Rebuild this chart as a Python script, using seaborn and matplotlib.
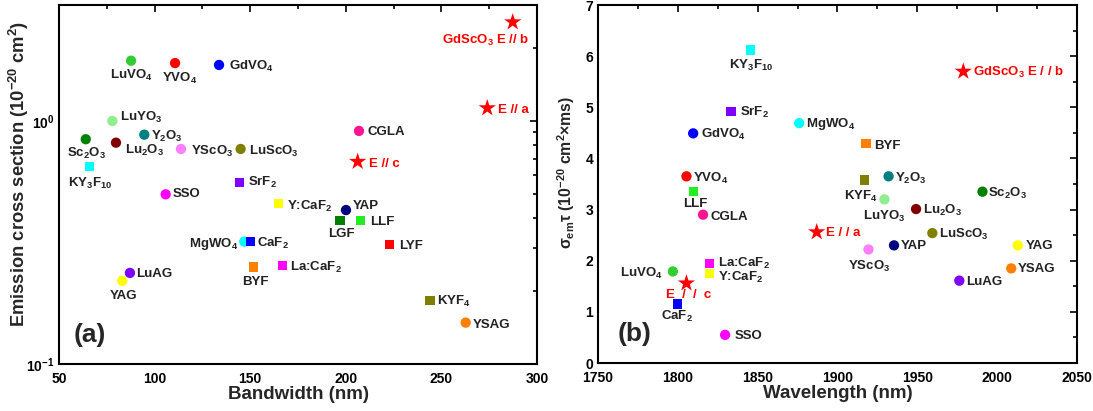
import matplotlib
matplotlib.use("Agg")
import matplotlib.pyplot as plt
import seaborn as sns
import pandas as pd
from matplotlib.ticker import MultipleLocator, NullFormatter, LogLocator

sns.set_style("white")
plt.rcParams['font.family'] = ['Liberation Sans', 'DejaVu Sans']
plt.rcParams['font.weight'] = 'bold'
plt.rcParams['mathtext.default'] = 'regular'

# ---------------- data: panel (a) ----------------
a_names = ["LuVO4", "YVO4", "GdVO4", "LuYO3", "Y2O3", "Sc2O3", "Lu2O3", "YScO3",
           "LuScO3", "KY3F10", "SrF2", "SSO", "Y:CaF2", "GdScO3 E//b", "E//a",
           "CGLA", "E//c", "MgWO4", "CaF2", "BYF", "La:CaF2", "LuAG", "YAG",
           "YAP", "LGF", "LLF", "LYF", "KYF4", "YSAG"]
a_bandwidth = [87.7, 110.7, 133.7, 77.9, 94.6, 64.0, 79.8, 113.8,
               145.0, 65.9, 144.3, 105.8, 164.9, 287.3, 274.0,
               206.9, 206.2, 146.9, 150.3, 151.6, 166.8, 87.1, 83.1,
               200.1, 197.0, 207.8, 223.0, 244.0, 262.7]
a_cross = [1.77, 1.73, 1.70, 1.00, 0.878, 0.841, 0.814, 0.767,
           0.767, 0.649, 0.56, 0.499, 0.458, 2.55, 1.13,
           0.91, 0.68, 0.319, 0.319, 0.251, 0.255, 0.237, 0.22,
           0.43, 0.389, 0.389, 0.311, 0.182, 0.148]

# ---------------- data: panel (b) ----------------
b_names = ["KY3F10", "SrF2", "GdVO4", "MgWO4", "YVO4", "LLF", "GdScO3 E//b", "BYF",
           "KYF4", "Y2O3", "LuYO3", "Sc2O3", "CGLA", "E//a", "La:CaF2", "Y:CaF2",
           "LuVO4", "E//c", "CaF2", "SSO", "Lu2O3", "LuScO3", "YAP", "YScO3",
           "YAG", "YSAG", "LuAG"]
b_wavelength = [1845.4, 1833.3, 1809.6, 1876.0, 1805.4, 1809.6, 1978.8, 1917.9,
                1917.0, 1932.0, 1929.4, 1990.8, 1815.8, 1887.0, 1819.8, 1819.8,
                1796.9, 1805.4, 1799.6, 1829.6, 1949.2, 1959.4, 1935.4, 1919.4,
                2012.9, 2008.8, 1976.3]
b_product = [6.12, 4.92, 4.49, 4.69, 3.65, 3.36, 5.70, 4.29,
             3.58, 3.65, 3.20, 3.35, 2.90, 2.56, 1.95, 1.755,
             1.79, 1.56, 1.155, 0.55, 3.01, 2.54, 2.30, 2.22,
             2.30, 1.85, 1.61]

# ---------------- styles (not data) ----------------
labels = {
    "LuVO4": "LuVO$_4$", "YVO4": "YVO$_4$", "GdVO4": "GdVO$_4$", "LuYO3": "LuYO$_3$",
    "Y2O3": "Y$_2$O$_3$", "Sc2O3": "Sc$_2$O$_3$", "Lu2O3": "Lu$_2$O$_3$",
    "YScO3": "YScO$_3$", "LuScO3": "LuScO$_3$", "KY3F10": "KY$_3$F$_{10}$",
    "SrF2": "SrF$_2$", "SSO": "SSO", "Y:CaF2": "Y:CaF$_2$",
    "CGLA": "CGLA", "MgWO4": "MgWO$_4$", "CaF2": "CaF$_2$", "BYF": "BYF",
    "La:CaF2": "La:CaF$_2$", "LuAG": "LuAG", "YAG": "YAG", "YAP": "YAP",
    "LGF": "LGF", "LLF": "LLF", "LYF": "LYF", "KYF4": "KYF$_4$", "YSAG": "YSAG",
}
a_star_labels = {"GdScO3 E//b": "GdScO$_3$ E // b", "E//a": "E // a", "E//c": "E // c"}
b_star_labels = {"GdScO3 E//b": "GdScO$_3$ E / / b", "E//a": "E / / a", "E//c": "E  /  /  c"}

colors = {
    "LuVO4": "#33cc33", "YVO4": "#ff0000", "GdVO4": "#0000ff", "LuYO3": "#90ee90",
    "Y2O3": "#008080", "Sc2O3": "#008000", "Lu2O3": "#800000", "YScO3": "#ff80ff",
    "LuScO3": "#808000", "KY3F10": "#00ffff", "SrF2": "#8000ff", "SSO": "#ff00ff",
    "Y:CaF2": "#ffff00", "GdScO3 E//b": "#ff0000", "E//a": "#ff0000", "E//c": "#ff0000",
    "CGLA": "#ff1493", "MgWO4": "#00ffff", "CaF2": "#0000ff", "BYF": "#ff8000",
    "La:CaF2": "#ff00ff", "LuAG": "#8000ff", "YAG": "#ffff00", "YAP": "#000080",
    "LGF": "#008000", "LLF": "#22ee22", "LYF": "#ff0000", "KYF4": "#808000",
    "YSAG": "#ff8000",
}
shapes = {n: "o" for n in colors}
for n in ["KY3F10", "SrF2", "Y:CaF2", "CaF2", "BYF", "La:CaF2", "LGF", "LLF", "LYF", "KYF4"]:
    shapes[n] = "s"
for n in ["GdScO3 E//b", "E//a", "E//c"]:
    shapes[n] = "*"
msize = {"o": 55, "s": 45, "*": 170}

# label offsets in pixels (dx right, dy down), horizontal alignment
a_off = {
    "LuVO4": (0, 15, "center"), "YVO4": (5, 15, "center"), "GdVO4": (10, 1, "left"),
    "LuYO3": (8, -4, "left"), "Y2O3": (7, 2, "left"), "Sc2O3": (1, 14, "center"),
    "Lu2O3": (9, 8, "left"), "YScO3": (10, 2, "left"), "LuScO3": (8, 2, "left"),
    "KY3F10": (1, 17, "center"), "SrF2": (9, 0, "left"), "SSO": (7, 0, "left"),
    "Y:CaF2": (8, 3, "left"), "GdScO3 E//b": (-27, 18, "center"), "E//a": (11, 2, "left"),
    "CGLA": (9, 1, "left"), "E//c": (11, 2, "left"), "MgWO4": (-6, 2, "right"),
    "CaF2": (6, 2, "left"), "BYF": (2, 15, "center"), "La:CaF2": (8, 2, "left"),
    "LuAG": (6, 1, "left"), "YAG": (1, 15, "center"), "YAP": (7, -4, "left"),
    "LGF": (1, 13, "center"), "LLF": (9, 1, "left"), "LYF": (9, 2, "left"),
    "KYF4": (7, 1, "left"), "YSAG": (7, 2, "left"),
}
b_off = {
    "KY3F10": (1, 15, "center"), "SrF2": (9, 1, "left"), "GdVO4": (8, 1, "left"),
    "MgWO4": (7, 1, "left"), "YVO4": (7, 2, "left"), "LLF": (2, 13, "center"),
    "GdScO3 E//b": (10, 1, "left"), "BYF": (8, 2, "left"), "KYF4": (-4, 17, "center"),
    "Y2O3": (6, 2, "left"), "LuYO3": (0, 17, "center"), "Sc2O3": (6, 2, "left"),
    "CGLA": (7, 2, "left"), "E//a": (9, 1, "left"), "La:CaF2": (9, 0, "left"),
    "Y:CaF2": (9, 4, "left"), "LuVO4": (-10, 2, "right"), "E//c": (2, 12, "center"),
    "CaF2": (0, 13, "center"), "SSO": (10, 1, "left"), "Lu2O3": (7, 1, "left"),
    "LuScO3": (7, 1, "left"), "YAP": (7, 1, "left"), "YScO3": (1, 17, "center"),
    "YAG": (8, 1, "left"), "YSAG": (7, 1, "left"), "LuAG": (7, 1, "left"),
}

fig = plt.figure(figsize=(10.93, 4.11), dpi=100)
ax1 = fig.add_axes([59 / 1093, 47 / 411, 478 / 1093, 359 / 411])
ax2 = fig.add_axes([598 / 1093, 48 / 411, 479 / 1093, 358 / 411])


def draw(ax, names, xs, ys, offs, star_labels):
    df = pd.DataFrame({"name": names, "x": xs, "y": ys})
    df["shape"] = df["name"].map(shapes)
    for shp, sub in df.groupby("shape"):
        sns.scatterplot(data=sub, x="x", y="y", hue="name", palette=colors,
                        marker=shp, s=msize[shp], linewidth=0, legend=False,
                        ax=ax, zorder=3)
    for n, x, y in zip(names, xs, ys):
        dx, dy, ha = offs[n]
        if n in star_labels:
            txt, col = star_labels[n], "#ff0000"
        else:
            txt, col = labels[n], "#222222"
        ax.annotate(txt, (x, y), xytext=(dx * 0.72, -dy * 0.72),
                    textcoords="offset points", ha=ha, va="center",
                    fontsize=9.5, fontweight="bold", color=col)


draw(ax1, a_names, a_bandwidth, a_cross, a_off, a_star_labels)
draw(ax2, b_names, b_wavelength, b_product, b_off, b_star_labels)

# panel (a) axes
ax1.set_yscale("log")
ax1.set_xlim(50, 300)
ax1.set_ylim(0.1, 3.0)
ax1.xaxis.set_major_locator(MultipleLocator(50))
ax1.xaxis.set_minor_locator(MultipleLocator(25))
ax1.yaxis.set_major_locator(LogLocator(base=10))
ax1.yaxis.set_minor_locator(LogLocator(base=10, subs=range(2, 10)))
ax1.yaxis.set_minor_formatter(NullFormatter())
ax1.set_xlabel("Bandwidth (nm)", fontsize=13.5, fontweight="bold", labelpad=0)
ax1.set_ylabel("Emission cross section (10$^{-20}$ cm$^2$)", fontsize=13.2,
               fontweight="bold")
ax1.yaxis.set_label_coords(-0.058, 0.53)
ax1.text(0.03, 0.08, "(a)", transform=ax1.transAxes, fontsize=19,
         fontweight="bold", ha="left", va="center")

# panel (b) axes
ax2.set_xlim(1750, 2050)
ax2.set_ylim(0, 7)
ax2.xaxis.set_major_locator(MultipleLocator(50))
ax2.xaxis.set_minor_locator(MultipleLocator(25))
ax2.yaxis.set_major_locator(MultipleLocator(1))
ax2.yaxis.set_minor_locator(MultipleLocator(0.5))
ax2.set_xlabel("Wavelength (nm)", fontsize=13.5, fontweight="bold", labelpad=0)
ax2.set_ylabel("σ$_{em}$τ (10$^{-20}$ cm$^2$×ms)", fontsize=11.3,
               fontweight="bold")
ax2.yaxis.set_label_coords(-0.044, 0.532)
ax2.text(0.04, 0.08, "(b)", transform=ax2.transAxes, fontsize=19,
         fontweight="bold", ha="left", va="center")

for ax in (ax1, ax2):
    for sp in ax.spines.values():
        sp.set_linewidth(1.5)
        sp.set_color("black")
        sp.set_visible(True)
    ax.tick_params(which="both", direction="in", top=True, right=True,
                   width=1.2, colors="black", labelsize=10)
    ax.tick_params(which="major", length=5)
    ax.tick_params(which="minor", length=3)
    ax.tick_params(axis="x", which="major", pad=6)
    for lab in ax.get_xticklabels() + ax.get_yticklabels():
        lab.set_fontweight("bold")

fig.savefig("out.png", dpi=100)
